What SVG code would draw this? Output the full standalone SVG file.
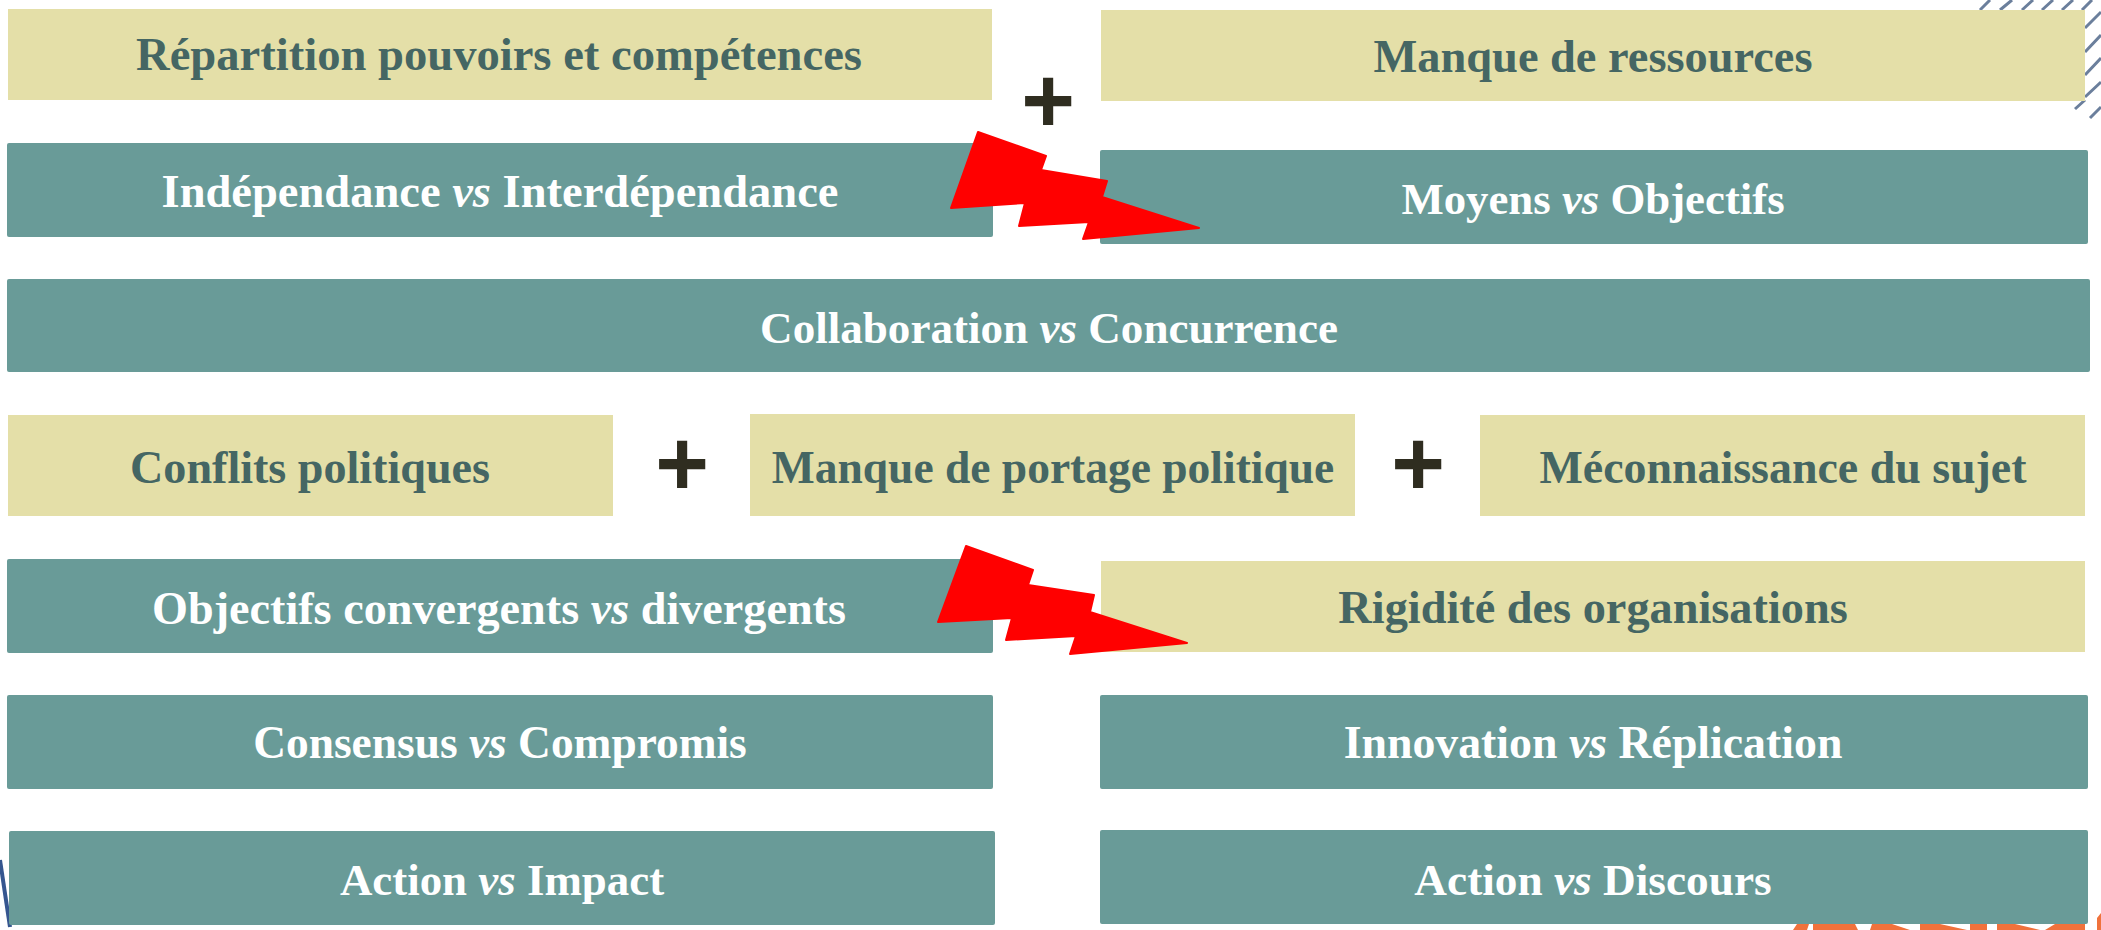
<svg xmlns="http://www.w3.org/2000/svg" width="2101" height="930" viewBox="0 0 2101 930">
<style>
.t{fill:#699b98}.y{fill:#e4dfa8}
text{font-family:"Liberation Serif",serif;font-weight:700;text-anchor:middle}
.w{fill:#fff}.d{fill:#456663}
.p{fill:#2f2d20;font-size:92px;font-family:"Liberation Sans",sans-serif}
.b{fill:#f00;stroke:#f00;stroke-width:2;stroke-linejoin:round}
tspan{font-style:italic}
.h{stroke:#6b7f9c;stroke-width:3;fill:none}
</style>
<g id="decor">
<path class="h" d="M1980 10L1990 0M2000 10L2012 0M2022 10L2033 0M2042 10L2053 0M2062 10L2073 0M2082 10L2092 0M2085 28L2101 12M2085 52L2101 35M2085 75L2101 58M2085 97L2101 82M2075 109L2085 100M2090 118L2101 107"/>
<path d="M0 860L10 927" stroke="#35568f" stroke-width="4" fill="none"/>
<path d="M1793 930L1797 924H1809L1807 930ZM1813 930V924H1855L1858 930ZM1870 930L1872 924H1892L1910 930H1890ZM1920 930V924H1940L1967 930ZM1970 930V924H1987V930ZM1997 930V924H2015L2040 930H2010ZM2045 930L2055 924H2085V930ZM2097 930V918L2101 913V930Z" fill="#f0723c"/>
</g>
<g id="n1"><rect class="y" x="8" y="9" width="984" height="91"/><text class="d" x="499" y="70" font-size="46.6">Répartition pouvoirs et compétences</text></g>
<g id="n2"><rect class="y" x="1101" y="10" width="984" height="91"/><text class="d" x="1593" y="72" font-size="46.4">Manque de ressources</text></g>
<g id="n3"><rect class="t" x="7" y="143" width="986" height="94" rx="2"/><text class="w" x="500" y="207" font-size="46.5">Indépendance <tspan>vs</tspan> Interdépendance</text></g>
<g id="n4"><rect class="t" x="1100" y="150" width="988" height="94" rx="2"/><text class="w" x="1593" y="214" font-size="44.8">Moyens <tspan>vs</tspan> Objectifs</text></g>
<g id="n5"><rect class="t" x="7" y="279" width="2083" height="93" rx="2"/><text class="w" x="1049" y="343" font-size="45.1">Collaboration <tspan>vs</tspan> Concurrence</text></g>
<g id="n6"><rect class="y" x="8" y="415" width="605" height="101"/><text class="d" x="310" y="483" font-size="46.1">Conflits politiques</text></g>
<g id="n7"><rect class="y" x="750" y="414" width="605" height="102"/><text class="d" x="1053" y="483" font-size="45.5">Manque de portage politique</text></g>
<g id="n8"><rect class="y" x="1480" y="415" width="605" height="101"/><text class="d" x="1783" y="483" font-size="45.9">Méconnaissance du sujet</text></g>
<g id="n9"><rect class="t" x="7" y="559" width="986" height="94" rx="2"/><text class="w" x="499" y="624" font-size="46.2">Objectifs convergents <tspan>vs</tspan> divergents</text></g>
<g id="n10"><rect class="y" x="1101" y="561" width="984" height="91"/><text class="d" x="1593" y="623" font-size="46.3">Rigidité des organisations</text></g>
<g id="n11"><rect class="t" x="7" y="695" width="986" height="94" rx="2"/><text class="w" x="500" y="758" font-size="45.4">Consensus <tspan>vs</tspan> Compromis</text></g>
<g id="n12"><rect class="t" x="1100" y="695" width="988" height="94" rx="2"/><text class="w" x="1593" y="758" font-size="45.8">Innovation <tspan>vs</tspan> Réplication</text></g>
<g id="n13"><rect class="t" x="9" y="831" width="986" height="94" rx="2"/><text class="w" x="502" y="895" font-size="44.9">Action <tspan>vs</tspan> Impact</text></g>
<g id="n14"><rect class="t" x="1100" y="830" width="988" height="94" rx="2"/><text class="w" x="1593" y="895" font-size="45.3">Action <tspan>vs</tspan> Discours</text></g>
<g id="connectors">
<text class="p" x="1048" y="132">+</text>
<text class="p" x="682" y="495">+</text>
<text class="p" x="1418" y="495">+</text>
<path class="b" d="M978 132L1046 156L1041 170L1107 181L1102 197L1199 228L1083 239L1089 222L1019 226L1025 203L951 208Z"/>
<path class="b" d="M966 546L1033 570L1028 585L1094 595L1090 612L1187 643L1070 654L1076 636L1006 640L1012 618L938 622Z"/>
</g>
</svg>
